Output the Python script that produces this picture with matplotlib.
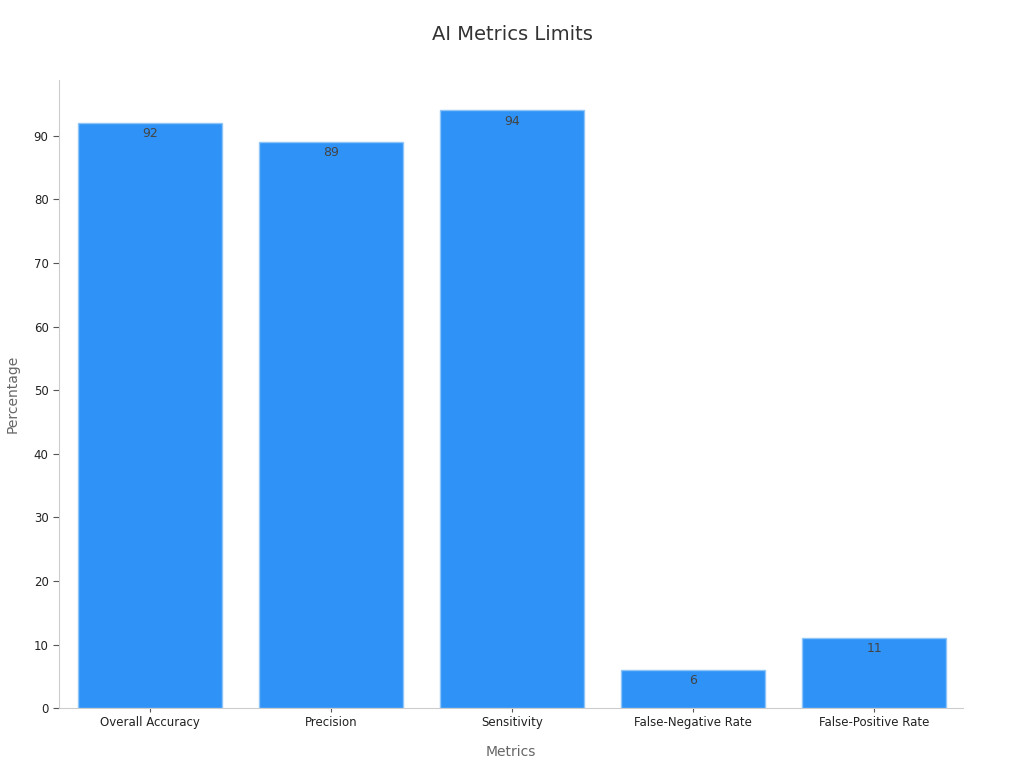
import matplotlib
matplotlib.use("Agg")
import matplotlib.pyplot as plt

categories = ["Overall Accuracy", "Precision", "Sensitivity", "False-Negative Rate", "False-Positive Rate"]
values = [92, 89, 94, 6, 11]

fig = plt.figure(figsize=(10.24, 7.68), dpi=100)
ax = fig.add_axes([0.0576, 0.078, 0.8828, 0.818])

x = range(len(categories))
bars = ax.bar(x, values, width=0.795, color="#2E92F6", edgecolor="#8EC5F8", linewidth=1)
for b, v in zip(bars, values):
    ax.annotate(str(v), (b.get_x() + b.get_width() / 2, v), xytext=(0, -3),
                textcoords="offset points", ha="center", va="top", fontsize=9, color="#444444")

ax.set_xlim(-0.505, 4.49)
ax.set_ylim(0, 98.8)
ax.set_xticks(list(x))
ax.set_xticklabels(categories, fontsize=8.5, color="#222222")
ax.set_yticks(range(0, 91, 10))
ax.tick_params(axis="y", labelsize=8.5, colors="#222222", length=4, color="#555555")
ax.tick_params(axis="x", length=3, color="#555555", pad=3)
for s in ["top", "right"]:
    ax.spines[s].set_visible(False)
for s in ["left", "bottom"]:
    ax.spines[s].set_color("#cccccc")
ax.set_xlabel("Metrics", fontsize=10, color="#666666", labelpad=11)
ax.set_ylabel("Percentage", fontsize=10, color="#666666", labelpad=10)
fig.suptitle("AI Metrics Limits", fontsize=14, color="#333333", y=0.968)

fig.savefig("out.png", dpi=100)
